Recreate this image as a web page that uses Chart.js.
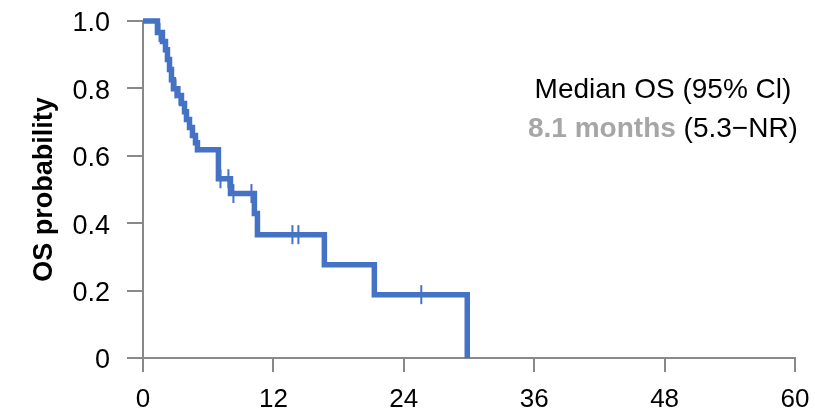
<!DOCTYPE html>
<html>
<head>
<meta charset="utf-8">
<script src="https://cdn.jsdelivr.net/npm/chart.js@4/dist/chart.umd.min.js"></script>
<style>
  html, body { margin: 0; padding: 0; background: #ffffff; }
  #wrap { width: 815px; height: 408px; }
</style>
</head>
<body>
<div id="wrap"><canvas id="c" width="815" height="408"></canvas></div>
<script>
// Kaplan-Meier step curve (months, survival probability after each event)
const kmTimes    = [0, 1.33, 1.79, 2.07, 2.25, 2.44, 2.62, 2.80, 3.17, 3.54, 3.82, 4.00, 4.28, 4.55, 4.83, 5.01, 6.94, 8.05, 10.25, 10.53, 16.69, 21.29, 29.84];
const kmSurvival = [1.0, 0.966, 0.939, 0.915, 0.886, 0.856, 0.826, 0.799, 0.779, 0.755, 0.731, 0.708, 0.684, 0.660, 0.639, 0.618, 0.532, 0.488, 0.429, 0.366, 0.277, 0.188, 0];

// Censoring marks
const censorTimes    = [1.52, 2.99, 3.36, 4.92, 7.13, 7.86, 8.32, 9.98, 13.75, 14.30, 25.61];
const censorSurvival = [0.966, 0.799, 0.779, 0.639, 0.532, 0.532, 0.488, 0.488, 0.366, 0.366, 0.188];

// Axes
const xTicks = [0, 12, 24, 36, 48, 60];
const yTicks = [0, 0.2, 0.4, 0.6, 0.8, 1.0];
const yTitle = 'OS probability';

// Annotation text
const annoLine1 = 'Median OS (95% Cl)';
const annoBold  = '8.1 months';
const annoRest  = ' (5.3\u2212NR)';

const BLUE = '#4472C4';
const AXIS = '#898989';
const FONT = "'Liberation Sans', Arial, sans-serif";

const kmPoints = kmTimes.map((t, i) => ({ x: t, y: kmSurvival[i] }));
const censorPoints = censorTimes.map((t, i) => ({ x: t, y: censorSurvival[i] }));

const annotationPlugin = {
  id: 'medianNote',
  afterDraw(chart) {
    const ctx = chart.ctx;
    const xs = chart.scales.x, ys = chart.scales.y;
    const cx = xs.getPixelForValue(47.85);
    const y1 = ys.getPixelForValue(0.7715);
    const y2 = ys.getPixelForValue(0.657);
    ctx.save();
    ctx.textBaseline = 'alphabetic';
    ctx.textAlign = 'left';
    ctx.font = '28px ' + FONT;
    ctx.fillStyle = '#000000';
    const w1 = ctx.measureText(annoLine1).width;
    ctx.fillText(annoLine1, cx - w1 / 2, y1);
    ctx.font = 'bold 28px ' + FONT;
    const wb = ctx.measureText(annoBold).width;
    ctx.font = '28px ' + FONT;
    const wr = ctx.measureText(annoRest).width;
    const start = cx - (wb + wr) / 2;
    ctx.font = 'bold 28px ' + FONT;
    ctx.fillStyle = '#A6A6A6';
    ctx.fillText(annoBold, start, y2);
    ctx.font = '28px ' + FONT;
    ctx.fillStyle = '#000000';
    ctx.fillText(annoRest, start + wb, y2);
    ctx.restore();
  }
};

new Chart(document.getElementById('c'), {
  type: 'line',
  data: {
    datasets: [
      {
        label: 'OS',
        data: kmPoints,
        stepped: 'before',
        borderColor: BLUE,
        borderWidth: 5.5,
        pointRadius: 0,
        fill: false,
        clip: false,
        borderCapStyle: 'butt',
        borderJoinStyle: 'miter'
      },
      {
        label: 'Censored',
        data: censorPoints,
        showLine: false,
        pointStyle: 'line',
        rotation: 90,
        pointRadius: 9.5,
        pointBorderWidth: 2,
        pointBorderColor: BLUE,
        pointBackgroundColor: BLUE,
        borderColor: BLUE,
        clip: false
      }
    ]
  },
  options: {
    responsive: false,
    animation: false,
    devicePixelRatio: 1,
    layout: { padding: { top: 21, right: 20, bottom: 0, left: 0 } },
    plugins: {
      legend: { display: false },
      tooltip: { enabled: false }
    },
    scales: {
      x: {
        type: 'linear',
        min: 0,
        max: 60,
        afterBuildTicks(scale) { scale.ticks = xTicks.map(v => ({ value: v })); },
        afterFit(scale) {
          scale.height = 50;
          scale.paddingLeft = 0;
          scale.paddingRight = 0;
        },
        border: { display: true, color: AXIS, width: 2 },
        grid: { drawOnChartArea: false, drawTicks: true, tickLength: 14, color: AXIS, lineWidth: 2 },
        ticks: {
          color: '#000000',
          font: { family: FONT, size: 26 },
          padding: 12,
          maxRotation: 0,
          callback: v => String(v)
        }
      },
      y: {
        type: 'linear',
        min: 0,
        max: 1,
        afterBuildTicks(scale) { scale.ticks = yTicks.map(v => ({ value: v })); },
        afterFit(scale) {
          scale.width = 143;
          scale.paddingTop = 0;
          scale.paddingBottom = 0;
        },
        border: { display: true, color: AXIS, width: 2 },
        grid: { drawOnChartArea: false, drawTicks: true, tickLength: 16, color: AXIS, lineWidth: 2 },
        ticks: {
          color: '#000000',
          font: { family: FONT, size: 27 },
          padding: 17,
          labelOffset: 3,
          callback: v => (v === 0 ? '0' : Number(v).toFixed(1))
        },
        title: {
          display: true,
          text: yTitle,
          color: '#000000',
          font: { family: FONT, size: 27, weight: 'bold' },
          padding: { top: 28, bottom: 0 }
        }
      }
    }
  },
  plugins: [annotationPlugin]
});
</script>
</body>
</html>
